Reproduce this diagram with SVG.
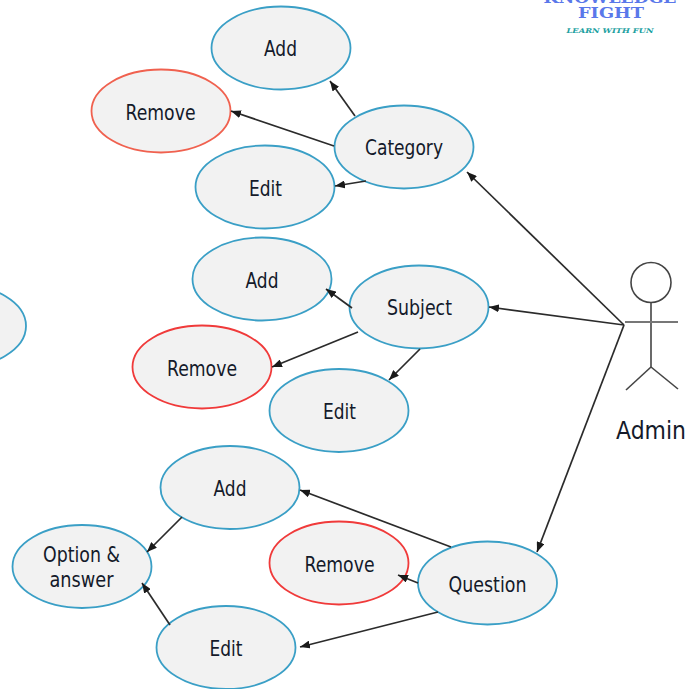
<svg xmlns="http://www.w3.org/2000/svg" width="697" height="689" viewBox="0 0 697 689">
<style>
.n{fill:#f2f2f2;stroke:#3a9fc6;stroke-width:1.8}
.r{fill:#f2f2f2;stroke:#f0614f;stroke-width:1.8}
.r2{fill:#f2f2f2;stroke:#f03a3a;stroke-width:1.8}
.t{font-family:"DejaVu Sans",sans-serif;font-size:21px;fill:#141a2a;text-anchor:middle}
.c line{stroke:#2b2b2b;stroke-width:1.7;marker-end:url(#a)}
.act line,.act circle{stroke:#444;stroke-width:1.6;fill:none}
</style>
<defs><marker id="a" markerUnits="userSpaceOnUse" markerWidth="11" markerHeight="8" refX="10" refY="4" orient="auto"><path d="M0 0L10 4L0 8z" fill="#1a1a1a"/></marker></defs>
<rect width="697" height="689" fill="#fff"/>
<g id="logo" text-anchor="middle" font-family="DejaVu Serif,serif" font-weight="bold">
<text x="610" y="3" font-size="15" fill="#5a78ea" textLength="133" lengthAdjust="spacingAndGlyphs">KNOWLEDGE</text>
<text x="611" y="18" font-size="15" fill="#5a78ea" textLength="66" lengthAdjust="spacingAndGlyphs">FIGHT</text>
<text x="610" y="33" font-size="6.5" font-style="italic" fill="#20a0a0" textLength="87" lengthAdjust="spacingAndGlyphs">LEARN WITH FUN</text>
</g>
<g id="cut"><ellipse class="n" cx="-44" cy="326" rx="70" ry="42"/></g>
<g id="add1"><ellipse class="n" cx="281" cy="48" rx="69.500" ry="41.500"/><text class="t" x="280.500" y="56" textLength="33" lengthAdjust="spacingAndGlyphs">Add</text></g>
<g id="remove1"><ellipse class="r" cx="161" cy="111" rx="69.500" ry="41.500"/><text class="t" x="160.500" y="119.500" textLength="70" lengthAdjust="spacingAndGlyphs">Remove</text></g>
<g id="category"><ellipse class="n" cx="404" cy="147" rx="69.500" ry="41.500"/><text class="t" x="404" y="155" textLength="78" lengthAdjust="spacingAndGlyphs">Category</text></g>
<g id="edit1"><ellipse class="n" cx="265" cy="187" rx="69.500" ry="41.500"/><text class="t" x="265.500" y="196" textLength="33" lengthAdjust="spacingAndGlyphs">Edit</text></g>
<g id="add2"><ellipse class="n" cx="262" cy="279" rx="69.500" ry="41.500"/><text class="t" x="262" y="287.500" textLength="33" lengthAdjust="spacingAndGlyphs">Add</text></g>
<g id="subject"><ellipse class="n" cx="419" cy="307" rx="69.500" ry="41.500"/><text class="t" x="419.500" y="315" textLength="65" lengthAdjust="spacingAndGlyphs">Subject</text></g>
<g id="remove2"><ellipse class="r2" cx="202" cy="367" rx="69.500" ry="41.500"/><text class="t" x="202" y="376" textLength="70" lengthAdjust="spacingAndGlyphs">Remove</text></g>
<g id="edit2"><ellipse class="n" cx="339" cy="410.500" rx="69.500" ry="41.500"/><text class="t" x="339.500" y="419" textLength="33" lengthAdjust="spacingAndGlyphs">Edit</text></g>
<g id="add3"><ellipse class="n" cx="230" cy="487.500" rx="69.500" ry="41.500"/><text class="t" x="230" y="496" textLength="33" lengthAdjust="spacingAndGlyphs">Add</text></g>
<g id="remove3"><ellipse class="r2" cx="339" cy="563" rx="69.500" ry="41.500"/><text class="t" x="339.500" y="571.500" textLength="70" lengthAdjust="spacingAndGlyphs">Remove</text></g>
<g id="question"><ellipse class="n" cx="487.500" cy="583" rx="69.500" ry="41.500"/><text class="t" x="487.500" y="591.500" textLength="78" lengthAdjust="spacingAndGlyphs">Question</text></g>
<g id="option"><ellipse class="n" cx="82" cy="566.500" rx="69.500" ry="41.500"/><text class="t" x="81.500" y="562" textLength="77" lengthAdjust="spacingAndGlyphs">Option &amp;</text><text class="t" x="81.500" y="587" textLength="64" lengthAdjust="spacingAndGlyphs">answer</text></g>
<g id="edit3"><ellipse class="n" cx="226" cy="647.500" rx="69.500" ry="41.500"/><text class="t" x="226" y="656" textLength="33" lengthAdjust="spacingAndGlyphs">Edit</text></g>
<g id="connectors" class="c">
<line x1="355" y1="116" x2="330" y2="81"/>
<line x1="334" y1="146" x2="231" y2="111"/>
<line x1="366" y1="181" x2="335" y2="186"/>
<line x1="352" y1="308" x2="326" y2="289"/>
<line x1="358" y1="332" x2="272" y2="367"/>
<line x1="420" y1="349" x2="389" y2="380"/>
<line x1="451" y1="547" x2="300" y2="490"/>
<line x1="418" y1="583" x2="398" y2="575"/>
<line x1="438" y1="612" x2="300" y2="647"/>
<line x1="182" y1="517" x2="147" y2="552"/>
<line x1="170" y1="625" x2="142" y2="583"/>
<line x1="624" y1="325" x2="467" y2="172"/>
<line x1="624" y1="325" x2="489" y2="307"/>
<line x1="624" y1="325" x2="537" y2="552"/>
</g>
<g id="admin" class="act">
<circle cx="651" cy="282.500" r="20"/>
<line x1="651" y1="303" x2="651" y2="367"/>
<line x1="625" y1="322" x2="678" y2="322" style="stroke:#777;stroke-width:2.200"/>
<line x1="651" y1="367" x2="626" y2="390"/>
<line x1="651" y1="367" x2="678" y2="389"/>
<text x="651" y="439" textLength="70" lengthAdjust="spacingAndGlyphs" style="font-family:'DejaVu Sans',sans-serif;font-size:25px;fill:#141a2a;text-anchor:middle;stroke:none">Admin</text>
</g>
</svg>
